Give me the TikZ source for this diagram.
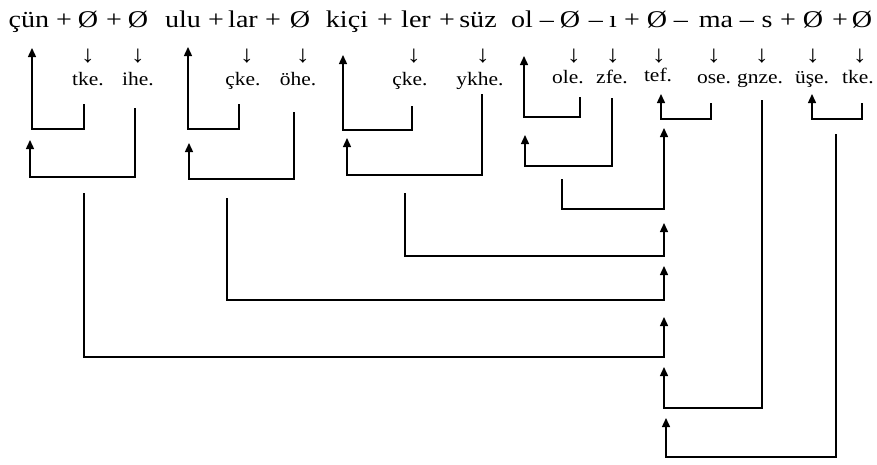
\documentclass[tikz,border=0pt]{standalone}
\usepackage{fontspec}
\setmainfont{Liberation Serif}[FakeStretch=1.17]
\newfontfamily\glossfont{Liberation Serif}[FakeStretch=1.13]
\usetikzlibrary{arrows.meta}
\begin{document}
\begin{tikzpicture}[x=1pt,y=-1pt,
  morph/.style={inner sep=0pt,anchor=base,font=\fontsize{24}{28}\selectfont},
  lab/.style={inner sep=0pt,anchor=base,font=\glossfont\fontsize{19}{23}\selectfont},
  darr/.style={inner sep=0pt,font=\fontsize{24}{28}\selectfont},
  conn/.style={line width=1.4pt,-{Triangle[length=9pt,width=8pt]}}]
\useasboundingbox (0,0) rectangle (877,464);
% top row of morphemes
\foreach \n/\x/\t in {1/29/çün,2/64/+,3/88/Ø,4/114/+,5/138/Ø,
  6/183/ulu,7/216/+,8/243/lar,9/273/+,10/300/Ø,
  11/347/kiçi,12/385/+,13/416/ler,14/447/+,15/478/süz,
  16/522/ol,17/547/–,18/570/Ø,19/596/–,20/613/ı,21/632/+,22/657/Ø,23/681/–,
  24/716/ma,25/747/–,26/767/s,27/788/+,28/813/Ø,29/840/+,30/862/Ø}
  \node[morph] (m\n) at (\x,27.5) {\t};
% small down arrows
\foreach \n/\x in {1/88,2/138,3/247,4/303,5/414,6/483,7/574,8/613,9/659,10/714,11/762,12/813,13/860}
  \node[darr] (d\n) at (\x,56) {↓};
% glosses
\foreach \n/\x/\y/\t in {1/88/85/tke.,2/138/85/ihe.,3/243/85/çke.,4/298/85/öhe.,
  5/410/85/çke.,6/480/85/ykhe.,7/568/83/ole.,8/612/83/zfe.,9/658/81/tef.,
  10/714/83/ose.,11/760/83/gnze.,12/812/83/üşe.,13/858/83/tke.}
  \node[lab] (g\n) at (\x,\y) {\t};
% connector end points
\coordinate (s1) at (84,104);  \coordinate (e1) at (32,48);
\coordinate (s2) at (135,108); \coordinate (e2) at (30,140);
\coordinate (s3) at (239,104); \coordinate (e3) at (188,47);
\coordinate (s4) at (294,112); \coordinate (e4) at (189,143);
\coordinate (s5) at (412,106); \coordinate (e5) at (343,55);
\coordinate (s6) at (482,94);  \coordinate (e6) at (347,138);
\coordinate (s7) at (580,97);  \coordinate (e7) at (524,56);
\coordinate (s8) at (612,98);  \coordinate (e8) at (525,135);
\coordinate (s9) at (711,103); \coordinate (e9) at (661,94);
\coordinate (s10) at (862,103); \coordinate (e10) at (812,94);
\coordinate (s11) at (562,179); \coordinate (e11) at (664,128);
\coordinate (s12) at (405,193); \coordinate (e12) at (664,223);
\coordinate (s13) at (227,198); \coordinate (e13) at (664,266);
\coordinate (s14) at (84,193);  \coordinate (e14) at (664,317);
\coordinate (s15) at (762,100); \coordinate (e15) at (664,367);
\coordinate (s16) at (836,134); \coordinate (e16) at (666,418);
% connectors
\draw[conn] (s1) -- (s1 |- 0,129) -| (e1);
\draw[conn] (s2) -- (s2 |- 0,177) -| (e2);
\draw[conn] (s3) -- (s3 |- 0,129) -| (e3);
\draw[conn] (s4) -- (s4 |- 0,179) -| (e4);
\draw[conn] (s5) -- (s5 |- 0,130) -| (e5);
\draw[conn] (s6) -- (s6 |- 0,175) -| (e6);
\draw[conn] (s7) -- (s7 |- 0,117) -| (e7);
\draw[conn] (s8) -- (s8 |- 0,166) -| (e8);
\draw[conn] (s9) -- (s9 |- 0,119) -| (e9);
\draw[conn] (s10) -- (s10 |- 0,119) -| (e10);
\draw[conn] (s11) -- (s11 |- 0,209) -| (e11);
\draw[conn] (s12) -- (s12 |- 0,256) -| (e12);
\draw[conn] (s13) -- (s13 |- 0,300) -| (e13);
\draw[conn] (s14) -- (s14 |- 0,357) -| (e14);
\draw[conn] (s15) -- (s15 |- 0,408) -| (e15);
\draw[conn] (s16) -- (s16 |- 0,457) -| (e16);
\end{tikzpicture}
\end{document}
